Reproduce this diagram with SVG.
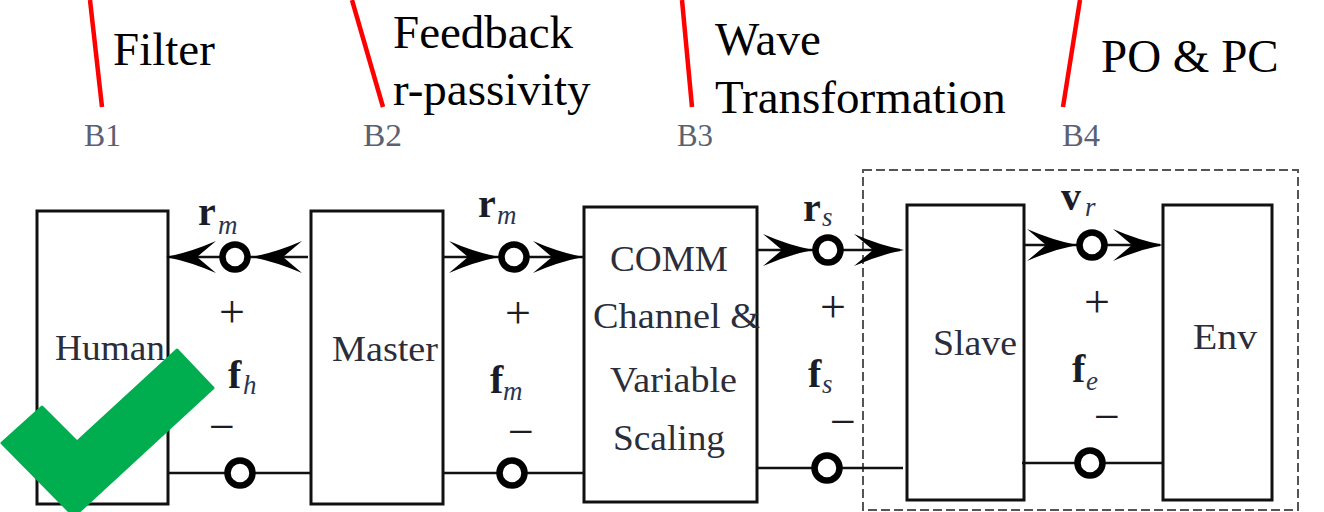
<svg xmlns="http://www.w3.org/2000/svg" xmlns:xlink="http://www.w3.org/1999/xlink" width="1324" height="512" viewBox="0 0 1324 512">
  <style>
    .box { fill: #fff; stroke: #111; stroke-width: 3; }
    .wire { fill: none; stroke: #111; stroke-width: 2.6; }
    .port { fill: #fff; stroke: #000; stroke-width: 6.5; }
    .boxlabel { font-family: "Liberation Serif", "Times New Roman", serif; font-size: 36px; fill: #2b2e3a; }
    .sym { font-family: "Liberation Serif", "Times New Roman", serif; fill: #1c1c24; }
    .vec { font-size: 40px; font-weight: bold; }
    .sub { font-size: 27px; font-style: italic; fill: #2a3550; }
    .sign { font-size: 46px; text-anchor: middle; }
    .tag { font-family: "Liberation Serif", "Times New Roman", serif; font-size: 31px; fill: #5a6172; }
    .note { font-family: "Liberation Serif", "Times New Roman", serif; font-size: 47px; fill: #000; }
    .pointer { stroke: #ff0000; stroke-width: 4.5; fill: none; }
    .group { fill: none; stroke: #555; stroke-width: 2; stroke-dasharray: 9 4; }
  </style>
  <defs>
    <!-- stealth-style arrowhead, tip at the origin, pointing right -->
    <path id="head" d="M0,0 Q-25,-5 -50,-16 L-31,0 L-50,16 Q-25,5 0,0 Z" fill="#000"/>
  </defs>

  <rect width="1324" height="512" fill="#fff"/>

  <!-- annotations above the chain -->
  <g id="annotations">
    <line class="pointer" x1="90" y1="0" x2="102" y2="107"/>
    <line class="pointer" x1="352" y1="0" x2="383" y2="107"/>
    <line class="pointer" x1="682" y1="0" x2="692" y2="107"/>
    <line class="pointer" x1="1080" y1="0" x2="1063" y2="107"/>
    <text class="note" x="113" y="65">Filter</text>
    <text class="note" x="393" y="48">Feedback</text>
    <text class="note" x="393" y="105">r-passivity</text>
    <text class="note" x="715" y="55">Wave</text>
    <text class="note" x="715" y="113">Transformation</text>
    <text class="note" x="1101" y="72">PO &amp; PC</text>
    <text class="tag" x="84" y="146" textLength="37" lengthAdjust="spacingAndGlyphs">B1</text>
    <text class="tag" x="363" y="146" textLength="39" lengthAdjust="spacingAndGlyphs">B2</text>
    <text class="tag" x="677" y="146" textLength="36" lengthAdjust="spacingAndGlyphs">B3</text>
    <text class="tag" x="1062" y="146" textLength="38" lengthAdjust="spacingAndGlyphs">B4</text>
  </g>

  <!-- dashed enclosure of the remote side -->
  <rect id="remote-side" class="group" x="863" y="170" width="435" height="340"/>

  <!-- blocks -->
  <g id="human">
    <rect class="box" x="37" y="211" width="131" height="293"/>
    <text class="boxlabel" x="55" y="360" textLength="110" lengthAdjust="spacingAndGlyphs">Human</text>
  </g>
  <g id="master">
    <rect class="box" x="311" y="211" width="132" height="293"/>
    <text class="boxlabel" x="332" y="361" textLength="106" lengthAdjust="spacingAndGlyphs">Master</text>
  </g>
  <g id="comm">
    <rect class="box" x="584" y="207" width="173" height="295"/>
    <text class="boxlabel" x="610" y="271" textLength="118" lengthAdjust="spacingAndGlyphs">COMM</text>
    <text class="boxlabel" x="593" y="328" textLength="167" lengthAdjust="spacingAndGlyphs">Channel &amp;</text>
    <text class="boxlabel" x="610" y="392" textLength="127" lengthAdjust="spacingAndGlyphs">Variable</text>
    <text class="boxlabel" x="613" y="450" textLength="112" lengthAdjust="spacingAndGlyphs">Scaling</text>
  </g>
  <g id="slave">
    <rect class="box" x="907" y="205" width="117" height="295"/>
    <text class="boxlabel" x="933" y="355" textLength="84" lengthAdjust="spacingAndGlyphs">Slave</text>
  </g>
  <g id="env">
    <rect class="box" x="1163" y="205" width="109" height="295"/>
    <text class="boxlabel" x="1193" y="349" textLength="64" lengthAdjust="spacingAndGlyphs">Env</text>
  </g>

  <!-- port connectors: flow wire on top, return wire below -->
  <g id="connectors">
    <line class="wire" x1="168" y1="257" x2="308" y2="257"/>
    <line class="wire" x1="168" y1="473" x2="311" y2="473"/>
    <line class="wire" x1="443" y1="257" x2="583" y2="257"/>
    <line class="wire" x1="443" y1="473" x2="584" y2="473"/>
    <line class="wire" x1="758" y1="250" x2="900" y2="250"/>
    <line class="wire" x1="757" y1="468" x2="903" y2="468"/>
    <line class="wire" x1="1024" y1="245" x2="1160" y2="245"/>
    <line class="wire" x1="1022" y1="463" x2="1163" y2="463"/>

    <use xlink:href="#head" transform="translate(166,257) scale(-1,1)"/>
    <use xlink:href="#head" transform="translate(252,257) scale(-1,1)"/>
    <use xlink:href="#head" transform="translate(499,257)"/>
    <use xlink:href="#head" transform="translate(583,257)"/>
    <use xlink:href="#head" transform="translate(813,250)"/>
    <use xlink:href="#head" transform="translate(904,250)"/>
    <use xlink:href="#head" transform="translate(1077,245)"/>
    <use xlink:href="#head" transform="translate(1163,245)"/>

    <circle class="port" cx="235" cy="257" r="12.5"/>
    <circle class="port" cx="240" cy="473" r="12.5"/>
    <circle class="port" cx="514" cy="257" r="12.5"/>
    <circle class="port" cx="512" cy="473" r="12.5"/>
    <circle class="port" cx="828" cy="250" r="12.5"/>
    <circle class="port" cx="827" cy="468" r="12.5"/>
    <circle class="port" cx="1092" cy="245" r="12.5"/>
    <circle class="port" cx="1090" cy="463" r="12.5"/>
  </g>

  <!-- port variables and signs -->
  <g id="port-labels" class="sym">
    <text x="198" y="225"><tspan class="vec">r</tspan><tspan class="sub" x="218" y="234">m</tspan></text>
    <text x="478" y="217"><tspan class="vec">r</tspan><tspan class="sub" x="497" y="224">m</tspan></text>
    <text x="803" y="221"><tspan class="vec">r</tspan><tspan class="sub" x="822" y="226">s</tspan></text>
    <text x="1061" y="210"><tspan class="vec">v</tspan><tspan class="sub" x="1085" y="216">r</tspan></text>

    <text x="228" y="388"><tspan class="vec">f</tspan><tspan class="sub" x="243" y="394">h</tspan></text>
    <text x="490" y="393"><tspan class="vec">f</tspan><tspan class="sub" x="503" y="400">m</tspan></text>
    <text x="808" y="387"><tspan class="vec">f</tspan><tspan class="sub" x="822" y="393">s</tspan></text>
    <text x="1072" y="382"><tspan class="vec">f</tspan><tspan class="sub" x="1086" y="390">e</tspan></text>

    <text class="sign" x="232" y="327">+</text>
    <text class="sign" x="518" y="328">+</text>
    <text class="sign" x="833" y="322">+</text>
    <text class="sign" x="1097" y="317">+</text>
    <text class="sign" x="222" y="442">−</text>
    <text class="sign" x="521" y="447">−</text>
    <text class="sign" x="843" y="437">−</text>
    <text class="sign" x="1107" y="432">−</text>
  </g>

  <!-- green tick mark -->
  <polygon id="tick" points="2,443 42,407 77,442 177,350 213,388 74,516" fill="#00ad4f" stroke="#00ad4f" stroke-width="3" stroke-linejoin="round"/>
</svg>
